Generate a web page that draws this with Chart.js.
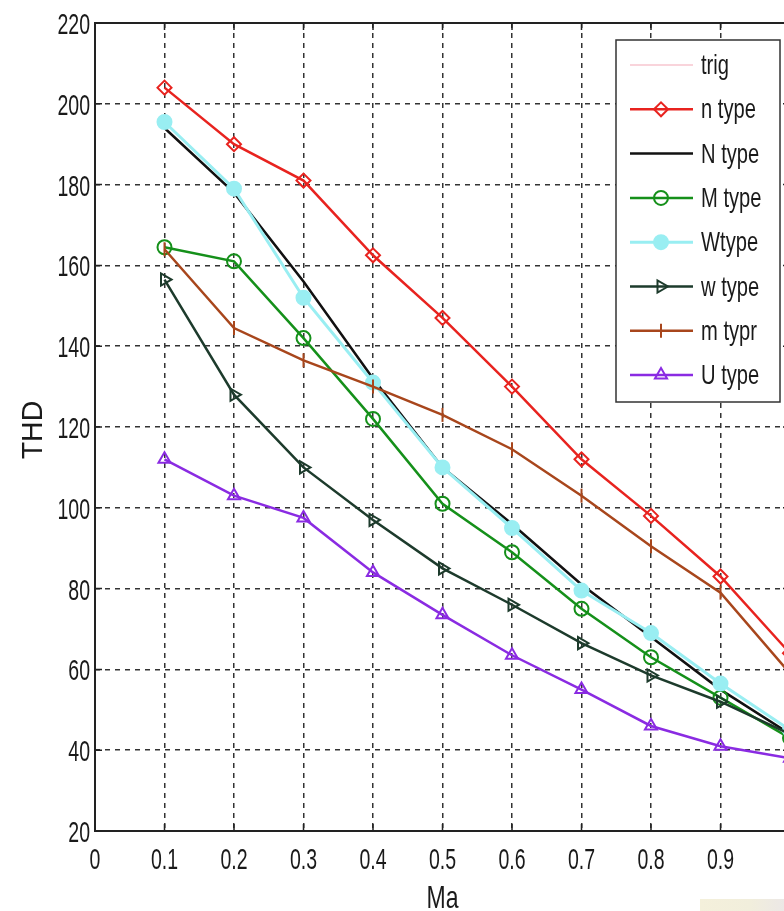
<!DOCTYPE html>
<html>
<head>
<meta charset="utf-8">
<script src="https://cdn.jsdelivr.net/npm/chart.js"></script>
<style>
  html, body { margin: 0; padding: 0; background: #fff; overflow: hidden; }
  #wrap { width: 784px; height: 911px; overflow: hidden; }
</style>
</head>
<body>
<div id="wrap"><canvas id="thdChart" width="800" height="911"></canvas></div>
<script>
// Ma values (x axis)
const ma = [0.1, 0.2, 0.3, 0.4, 0.5, 0.6, 0.7, 0.8, 0.9, 1.0];

// THD for each type
const trigThd  = [194, 178, 156, 132, 110, 96, 81, 68, 55, 44];
const nSmall   = [204, 190, 181, 162.5, 147, 130, 112, 98, 83, 64];
const nBig     = [194, 178, 156, 132, 110, 96, 81, 68, 55, 44];
const mBig     = [164.5, 161, 142, 122, 101, 89, 75, 63, 53, 43];
const wBig     = [195.5, 179, 152, 131, 110, 95, 79.5, 69, 56.5, 45];
const wSmall   = [156.5, 128, 110, 97, 85, 76, 66.5, 58.5, 52, 44];
const mSmall   = [164, 144.5, 136.5, 130, 123, 114.5, 103, 90.5, 79, 59];
const uType    = [112, 103, 97.5, 84, 73.5, 63.5, 55, 46, 41, 38];

const yTicks = [20, 40, 60, 80, 100, 120, 140, 160, 180, 200, 220];

const sans = "'Liberation Sans', Arial, sans-serif";

function pts(vals) {
  return ma.map((x, i) => ({ x: x, y: vals[i] }));
}

const series = [
  { label: "trig",   data: trigThd, color: "#f7c6cf", style: false,      width: 1.5 },
  { label: "n type", data: nSmall,  color: "#e8231f", style: "rectRot",  width: 2.5 },
  { label: "N type", data: nBig,    color: "#111111", style: false,      width: 2.5 },
  { label: "M type", data: mBig,    color: "#15901a", style: "circle",   width: 2.5 },
  { label: "Wtype",  data: wBig,    color: "#99eef2", style: "circle",   width: 3, fill: true },
  { label: "w type", data: wSmall,  color: "#1d3b2c", style: "triangle", width: 2.5, rot: 90 },
  { label: "m typr", data: mSmall,  color: "#a8461c", style: "line",     width: 2.5, rot: 90 },
  { label: "U type", data: uType,   color: "#8a2be2", style: "triangle", width: 2.5 }
];

const datasets = series.map((s, i) => ({
  label: s.label,
  data: pts(s.data),
  borderColor: s.color,
  backgroundColor: s.fill ? s.color : "rgba(255,255,255,0)",
  borderWidth: s.width,
  pointStyle: s.style,
  pointRadius: s.style ? 7 : 0,
  pointRotation: s.rot || 0,
  pointBorderWidth: 2,
  tension: 0,
  order: series.length - i
}));

// squeezed text like the stretched MATLAB screenshot
function narrowText(ctx, text, x, y, size, sx, align, rot) {
  ctx.save();
  ctx.translate(x, y);
  if (rot) ctx.rotate(rot);
  ctx.scale(sx, 1);
  ctx.font = size + "px " + sans;
  ctx.textAlign = align;
  ctx.textBaseline = "alphabetic";
  ctx.fillStyle = "#1a1a1a";
  ctx.fillText(text, 0, 0);
  ctx.restore();
}

// frame, inner ticks, tick labels and axis titles
const frame = {
  id: "frame",
  afterDatasetsDraw(chart) {
    const { ctx, chartArea: a, scales } = chart;
    ctx.save();
    ctx.strokeStyle = "#222";
    ctx.lineWidth = 2;
    ctx.strokeRect(a.left, a.top, a.right - a.left, a.bottom - a.top);
    ctx.lineWidth = 1.5;
    ctx.beginPath();
    scales.x.ticks.forEach(t => {
      const px = scales.x.getPixelForValue(t.value);
      ctx.moveTo(px, a.top); ctx.lineTo(px, a.top + 7);
      ctx.moveTo(px, a.bottom); ctx.lineTo(px, a.bottom - 7);
    });
    scales.y.ticks.forEach(t => {
      const py = scales.y.getPixelForValue(t.value);
      ctx.moveTo(a.left, py); ctx.lineTo(a.left + 7, py);
      ctx.moveTo(a.right, py); ctx.lineTo(a.right - 7, py);
    });
    ctx.stroke();
    ctx.restore();

    scales.x.ticks.forEach(t => {
      const px = scales.x.getPixelForValue(t.value);
      narrowText(ctx, String(+t.value.toFixed(1)), px, a.bottom + 38, 30, 0.65, "center");
    });
    scales.y.ticks.forEach(t => {
      const py = scales.y.getPixelForValue(t.value);
      narrowText(ctx, String(t.value), a.left - 5, py + 11, 30, 0.65, "right");
    });
    narrowText(ctx, "Ma", (a.left + a.right) / 2, a.bottom + 77, 32, 0.72, "center");
    narrowText(ctx, "THD", 42, (a.top + a.bottom) / 2 + 3, 30, 0.95, "center", -Math.PI / 2);

    // scanner smear in the bottom corner
    const g = ctx.createLinearGradient(700, 0, 784, 0);
    g.addColorStop(0, "#f4f0db");
    g.addColorStop(0.6, "#f1eedc");
    g.addColorStop(1, "#ece8e6");
    ctx.fillStyle = g;
    ctx.fillRect(700, 899, 84, 12);
  }
};

// legend box in the upper right, like MATLAB
const legendBox = {
  id: "legendBox",
  afterDraw(chart) {
    const { ctx, chartArea: a } = chart;
    const x0 = a.right - 174, y0 = a.top + 17, w = 164, h = 362;
    ctx.save();
    ctx.fillStyle = "#fff";
    ctx.fillRect(x0, y0, w, h);
    ctx.strokeStyle = "#333";
    ctx.lineWidth = 1.5;
    ctx.strokeRect(x0, y0, w, h);
    chart.data.datasets.forEach((ds, i) => {
      const y = y0 + 25 + i * 44.3;
      ctx.strokeStyle = ds.borderColor;
      ctx.lineWidth = ds.borderWidth;
      ctx.beginPath();
      ctx.moveTo(x0 + 14, y);
      ctx.lineTo(x0 + 77, y);
      ctx.stroke();
      if (ds.pointStyle && Chart.helpers && Chart.helpers.drawPoint) {
        ctx.fillStyle = ds.backgroundColor;
        ctx.lineWidth = ds.pointBorderWidth;
        Chart.helpers.drawPoint(ctx, {
          pointStyle: ds.pointStyle,
          radius: ds.pointRadius,
          rotation: ds.pointRotation,
          borderWidth: ds.pointBorderWidth
        }, x0 + 45, y);
      }
      narrowText(ctx, ds.label, x0 + 85, y + 9, 28, 0.72, "left");
    });
    ctx.restore();
  }
};

new Chart(document.getElementById("thdChart").getContext("2d"), {
  type: "line",
  data: { datasets },
  options: {
    responsive: false,
    animation: false,
    devicePixelRatio: 1,
    layout: { padding: { left: 0, top: 23, right: 10, bottom: 0 } },
    plugins: { legend: { display: false }, tooltip: { enabled: false } },
    scales: {
      x: {
        type: "linear",
        min: 0,
        max: 1,
        afterFit: s => { s.height = 80; },
        ticks: { stepSize: 0.1, display: false },
        grid: { color: "#333", lineWidth: 1.5, drawTicks: false },
        border: { display: false, dash: [5, 5] }
      },
      y: {
        min: 20,
        max: 220,
        afterFit: s => { s.width = 95; },
        afterBuildTicks: s => { s.ticks = yTicks.map(v => ({ value: v })); },
        ticks: { display: false },
        grid: { color: "#333", lineWidth: 1.5, drawTicks: false },
        border: { display: false, dash: [5, 5] }
      }
    }
  },
  plugins: [frame, legendBox]
});
</script>
</body>
</html>
